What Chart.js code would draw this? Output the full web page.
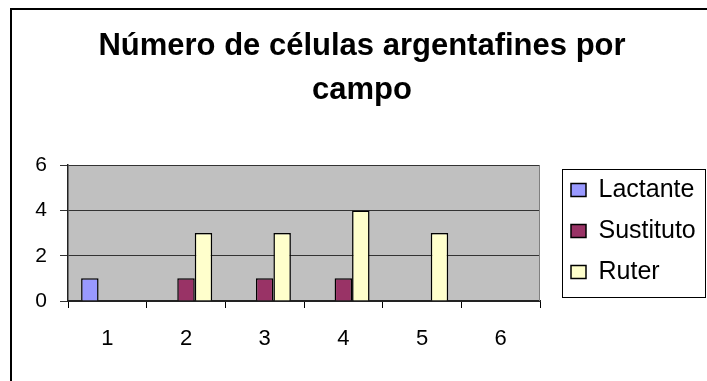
<!DOCTYPE html>
<html><head><meta charset="utf-8">
<script src="https://cdn.jsdelivr.net/npm/chart.js@4/dist/chart.umd.min.js"></script>
<style>
html,body{margin:0;padding:0;background:#fff;}
#wrap{position:relative;width:707px;height:381px;overflow:hidden;}
#frame{position:absolute;left:10px;top:8px;width:720px;height:400px;border-left:2px solid #000;border-top:2px solid #000;}
canvas{position:absolute;left:0;top:0;}
</style></head><body>
<div id="wrap"><div id="frame"></div><canvas id="c" width="707" height="381"></canvas></div>
<script>
const titleLines = ["Número de células argentafines por", "campo"];
const categories = ["1", "2", "3", "4", "5", "6"];
const seriesNames = ["Lactante", "Sustituto", "Ruter"];
const lactante = [1, 0, 0, 0, 0, 0];
const sustituto = [0, 1, 1, 1, 0, 0];
const ruter = [0, 3, 3, 4, 3, 0];
const yTicks = [0, 2, 4, 6];

const FONT = "'Liberation Sans', Arial, sans-serif";
const LEG_FONT = 25, LEG_PAD = 16;

const plotBg = {
  id: 'plotBg',
  beforeDraw(chart) {
    const {ctx, chartArea: a} = chart;
    ctx.save();
    ctx.fillStyle = '#C0C0C0';
    ctx.fillRect(a.left, a.top, a.right - a.left, a.bottom - a.top);
    ctx.restore();
  },
  afterDatasetsDraw(chart) {
    const {ctx, chartArea: a} = chart;
    ctx.save();
    ctx.strokeStyle = '#808080';
    ctx.lineWidth = 1;
    ctx.beginPath();
    ctx.moveTo(a.right - 0.5, a.top);
    ctx.lineTo(a.right - 0.5, a.bottom);
    ctx.stroke();
    ctx.restore();
  }
};

const legendBox = {
  id: 'legendBox',
  afterLayout(chart) {
    const l = chart.legend;
    const colH = seriesNames.length * (LEG_FONT + LEG_PAD);
    const curY0 = (l.top + LEG_PAD + l.bottom - colH) / 2;
    const dy = 177.5 - curY0;
    const dx = 571 - (l.left + LEG_PAD);
    l.left += dx; l.right += dx;
    l.top += dy; l.bottom += dy;
  },
  afterDraw(chart) {
    const l = chart.legend;
    const ctx = chart.ctx;
    const colH = seriesNames.length * (LEG_FONT + LEG_PAD);
    const y0 = (l.top + LEG_PAD + l.bottom - colH) / 2;
    const x0 = Math.round(l.left + LEG_PAD - 9) + 0.5;
    const x1 = 705.5;
    ctx.save();
    ctx.strokeStyle = '#000';
    ctx.lineWidth = 1;
    ctx.strokeRect(x0, Math.round(y0 - 9) + 0.5, x1 - x0, 128);
    ctx.restore();
  }
};

const colors = ['#9999FF', '#993366', '#FFFFCC'];
const values = [lactante, sustituto, ruter];

new Chart(document.getElementById('c'), {
  type: 'bar',
  data: {
    labels: categories,
    datasets: seriesNames.map((n, i) => ({
      label: n,
      data: values[i],
      backgroundColor: colors[i],
      borderColor: '#000',
      borderWidth: 1.5,
      categoryPercentage: 3 / 4.5,
      barPercentage: 1.0
    }))
  },
  options: {
    responsive: false,
    animation: false,
    devicePixelRatio: 1,
    layout: {padding: {left: 17, right: 0, top: 0, bottom: 32}},
    plugins: {
      title: {
        display: true,
        text: titleLines,
        color: '#000',
        font: {family: FONT, size: 31, weight: 'bold', lineHeight: 1.4},
        padding: {top: 25, bottom: 53.4}
      },
      legend: {
        display: true,
        position: 'right',
        align: 'center',
        fullSize: true,
        labels: {
          color: '#000',
          font: {family: FONT, size: LEG_FONT},
          boxWidth: 15,
          boxHeight: 13,
          padding: LEG_PAD
        }
      },
      tooltip: {enabled: false}
    },
    scales: {
      x: {
        offset: true,
        grid: {display: true, drawOnChartArea: false, drawTicks: true, tickLength: 7, color: '#000', offset: true},
        border: {display: true, color: '#222', width: 2},
        ticks: {color: '#000', font: {family: FONT, size: 22}, padding: 18, maxRotation: 0},
        afterFit(s) { s.paddingRight = 167; s.paddingLeft = 0; s.height = 48; }
      },
      y: {
        min: 0, max: 6,
        afterBuildTicks(s) { s.ticks = yTicks.map(v => ({value: v})); },
        grid: {display: true, drawOnChartArea: true, drawTicks: true, tickLength: 8, color: '#333', lineWidth: 1},
        border: {display: true, color: '#222', width: 1.5},
        ticks: {color: '#000', font: {family: FONT, size: 21}, padding: 13},
        afterFit(s) { s.width = 51; }
      }
    }
  },
  plugins: [plotBg, legendBox]
});
</script>
</body></html>
